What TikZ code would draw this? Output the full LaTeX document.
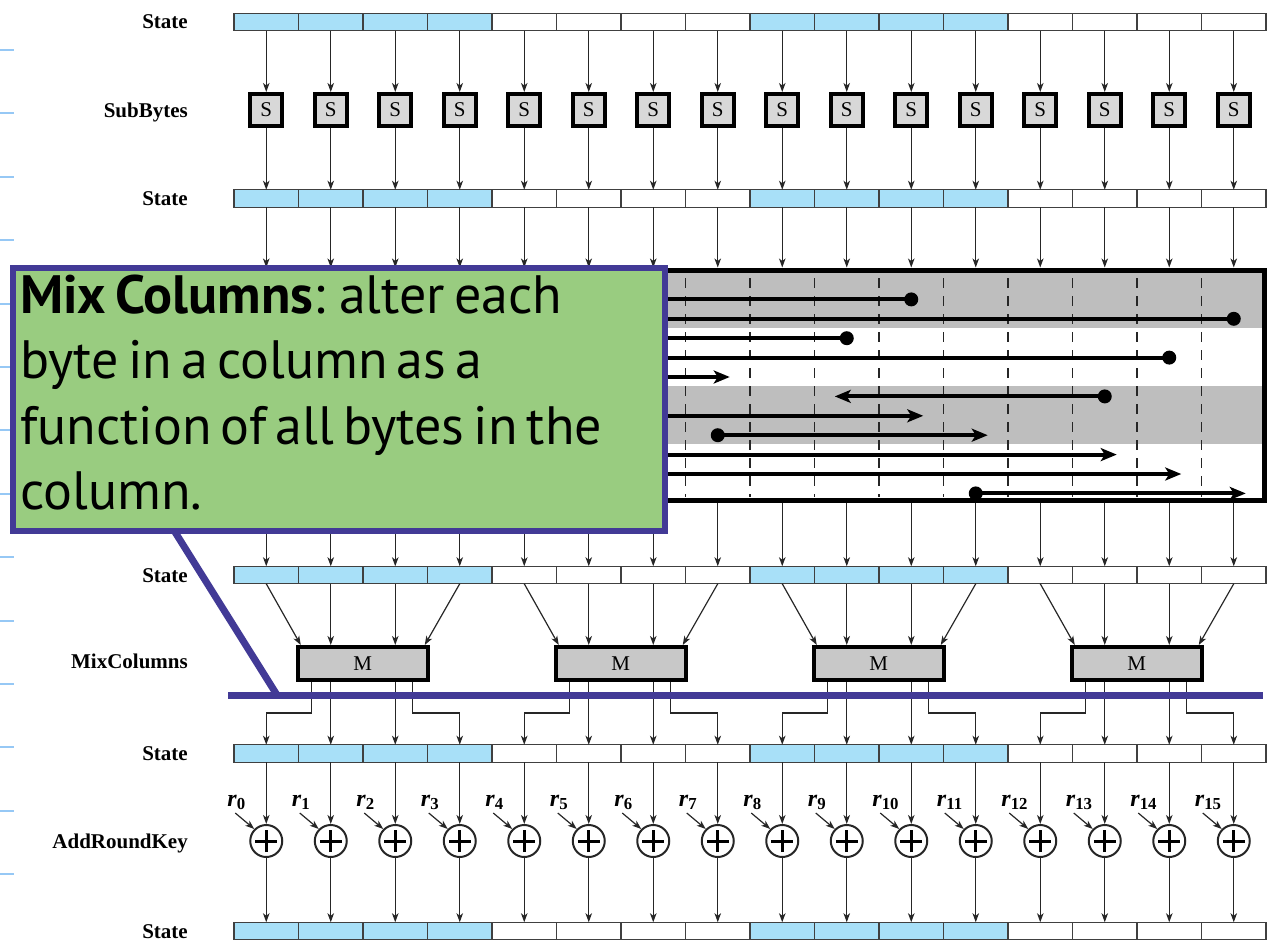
\documentclass[tikz,border=0pt]{standalone}
\usepackage{fontspec}
\setmainfont{Liberation Serif}
\newfontfamily\callfont{PT Sans}
\newcommand\callsp{\spaceskip=0.17em plus 0.05em\relax}
\usetikzlibrary{arrows.meta}
\definecolor{cellblue}{RGB}{168,224,248}
\definecolor{sgray}{RGB}{216,216,216}
\definecolor{mgray}{RGB}{200,200,200}
\definecolor{bandgray}{RGB}{190,190,190}
\definecolor{callgreen}{RGB}{153,204,128}
\definecolor{callblue}{RGB}{66,58,150}
\definecolor{tickblue}{RGB}{150,200,245}
\tikzset{
 cell/.style={draw=black!75, line width=1.2pt, minimum width=64.5pt, minimum height=17.5pt, inner sep=0pt, outer sep=0pt},
 arr/.style={draw=black!85, line width=1.2pt, -{Stealth[length=9pt,width=6.5pt,inset=2.5pt]}},
 sbox/.style={draw=black, fill=sgray, line width=4pt, minimum size=32pt, inner sep=0pt, font=\fontsize{21}{21}\selectfont},
 mbox/.style={draw=black, fill=mgray, line width=4pt, minimum width=130pt, minimum height=33pt, inner sep=0pt, font=\fontsize{21}{21}\selectfont},
 xorc/.style={circle, draw=black!85, line width=2pt, fill=white, minimum size=32pt, inner sep=0pt},
 plusln/.style={line width=3pt, black},
 lab/.style={anchor=base east, inner sep=0pt, font=\fontsize{21}{24}\selectfont\bfseries},
 rlab/.style={anchor=base west, inner sep=0pt, font=\fontsize{24}{26}\selectfont\bfseries\itshape},
 dashln/.style={line width=1.4pt, dash pattern=on 10pt off 8pt, black!85},
 bigarr/.style={line width=4pt, -{Stealth[length=16pt,width=13pt,inset=4pt]}},
 dotn/.style={circle, fill=black, minimum size=14pt, inner sep=0pt},
 shiftbox/.style={draw=black, line width=5pt, minimum width=1028pt, minimum height=230pt, inner sep=0pt},
 callbox/.style={draw=callblue, fill=callgreen, line width=6pt, minimum width=652pt, minimum height=263pt, inner sep=0pt},
 calltxt/.style={anchor=base west, inner sep=0pt, font=\callfont\fontsize{54}{64}\selectfont},
 leader/.style={draw=callblue, line width=7pt},
 lefttick/.style={draw=tickblue, line width=2pt},
}
\begin{document}
\begin{tikzpicture}[x=1pt,y=-1pt]
\useasboundingbox (0,0) rectangle (1268,942);
% left ticks
\foreach \k in {0,...,13}{
  \draw[lefttick] (0,{50+63.4*\k}) -- (14,{50+63.4*\k});
}
% state bars
\foreach \r/\y in {1/22,2/198.5,3/575,4/753.5,5/931}{
  \foreach \i in {0,...,15}{
    \pgfmathtruncatemacro\g{mod(floor(\i/4),2)}
    \ifnum\g=0 \def\cc{cellblue}\else\def\cc{white}\fi
    \node[cell, fill=\cc] (st\r-\i) at ({266.25+64.5*\i},\y) {};
  }
}
% labels
\node[lab] (l1) at (188,28.5) {State};
\node[lab] (l2) at (188,117) {SubBytes};
\node[lab] (l3) at (188,205) {State};
\node[lab] (l4) at (188,582) {State};
\node[lab] (l5) at (188,668) {MixColumns};
\node[lab] (l6) at (188,760) {State};
\node[lab] (l7) at (188,848) {AddRoundKey};
\node[lab] (l8) at (188,938) {State};
% SubBytes
\foreach \i in {0,...,15}{
  \node[sbox] (S-\i) at ({266.25+64.5*\i},110) {S};
  \draw[arr] (st1-\i.south) -- (S-\i.north);
  \draw[arr] (S-\i.south) -- (st2-\i.north);
}
% ShiftRows box
\fill[bandgray] (236,270) rectangle (1264,328);
\fill[bandgray] (236,386) rectangle (1264,444);
\foreach \k in {1,...,15}{
  \draw[dashln] ({234+64.5*\k},278) -- ({234+64.5*\k},497);
}
\node[shiftbox] (SR) at (750,385) {};
\foreach \j/\s/\d in {0/5/1,1/10/2,2/15/3,3/9/5,4/14/6,5/3/7,6/13/9,7/2/10,8/7/11,9/1/13,10/6/14,11/11/15}{
  \pgfmathsetmacro\yy{280+19.4*\j}
  \pgfmathsetmacro\xs{266.25+64.5*\s}
  \pgfmathsetmacro\xd{266.25+64.5*\d+12*sign(\d-\s)}
  \node[dotn] (d\j) at (\xs,\yy) {};
  \coordinate (t\j) at (\xd,\yy);
  \draw[bigarr] (d\j.center) -- (t\j);
}
\foreach \i in {0,...,15}{
  \draw[arr] (st2-\i.south) -- (st2-\i.south |- SR.north);
  \draw[arr] (st2-\i.south |- SR.south) -- (st3-\i.north);
}
% MixColumns
\foreach \k in {0,...,3}{
  \pgfmathtruncatemacro\a{4*\k}
  \pgfmathtruncatemacro\b{4*\k+1}
  \pgfmathtruncatemacro\c{4*\k+2}
  \pgfmathtruncatemacro\d{4*\k+3}
  \node[mbox] (M\k) at ({362.75+258*\k},663.5) {M};
  \draw[arr] (st3-\a.south) -- ([xshift=-62pt]M\k.north);
  \draw[arr] (st3-\b.south) -- (st3-\b.south |- M\k.north);
  \draw[arr] (st3-\c.south) -- (st3-\c.south |- M\k.north);
  \draw[arr] (st3-\d.south) -- ([xshift=62pt]M\k.north);
  \draw[arr] ([xshift=-51pt]M\k.south) -- ++(0,31) -| (st4-\a.north);
  \draw[arr] (st4-\b.north |- M\k.south) -- (st4-\b.north);
  \draw[arr] (st4-\c.north |- M\k.south) -- (st4-\c.north);
  \draw[arr] ([xshift=50pt]M\k.south) -- ++(0,31) -| (st4-\d.north);
}
% AddRoundKey
\foreach \i in {0,...,15}{
  \pgfmathsetmacro\cx{266.25+64.5*\i}
  \node[xorc] (P-\i) at (\cx,841) {};
  \draw[plusln] ([xshift=-11pt]P-\i.center) -- ([xshift=11pt]P-\i.center);
  \draw[plusln] ([yshift=-11pt]P-\i.center) -- ([yshift=11pt]P-\i.center);
  \draw[arr] (st4-\i.south) -- (P-\i.north);
  \draw[arr] (P-\i.south) -- (st5-\i.north);
  \node[rlab] (r\i) at ({\cx-39},806) {r\textsubscript{\upshape\bfseries\i}};
  \coordinate (ra\i) at ({\cx-31},813);
  \draw[arr] (ra\i) -- (P-\i.north west);
}
% callout
\coordinate (L1) at (175,532);
\coordinate (L2) at (277,695);
\coordinate (L3) at (228,695);
\coordinate (L4) at (1263,695);
\draw[leader] (L1) -- (L2);
\draw[leader] (L3) -- (L4);
\node[callbox] (CO) at (339,399.5) {};
\node[calltxt] (c1) at (20,313) {\callsp\textbf{Mix Columns}: alter each};
\node[calltxt] (c2) at (20,378.5) {\callsp byte in a column as a};
\node[calltxt] (c3) at (20,444) {\callsp function of all bytes in the};
\node[calltxt] (c4) at (20,509.5) {\callsp column.};
\end{tikzpicture}
\end{document}
